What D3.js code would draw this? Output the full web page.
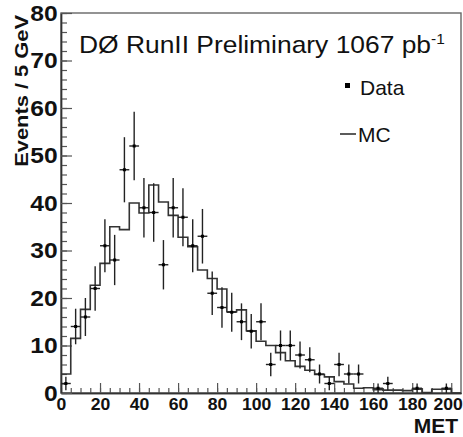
<!DOCTYPE html>
<meta charset="utf-8">
<style>
  body { margin: 0; background: #fff; }
  svg { display: block; }
  text { font-family: "Liberation Sans", Arial, Helvetica, sans-serif; fill: #111; }
  .axis text { font-weight: bold; }
  .axis .domain { stroke: #333; stroke-width: 1.4px; }
  .axis line { stroke: #555; stroke-width: 1.2px; }
</style>
<svg width="463" height="437"></svg>
<script src="https://d3js.org/d3.v7.min.js"></script>
<script>

  // 5 GeV bins, 0..205 GeV
  var binWidth = 5;
  var dataCounts = [2, 14, 16, 22, 31, 28, 47, 52, 39, 38,
                    27, 39, 37, 31, 33, 21, 18, 17, 15, 13,
                    15, 6, 10, 10, 8, 7, 4, 2, 6, 4,
                    4, 0, 1, 2, 0, 0, 1, 0, 0, 1, 0];
  var mcCounts = [4, 11.5, 17.6, 22.7, 27.3, 35.0, 34.4, 40.0, 37.9, 43.8,
                  40.2, 37.4, 32.8, 30.8, 25.9, 24.1, 21.9, 17.1, 17.5, 13.1,
                  10.9, 10.0, 8.5, 6.8, 5.6, 4.8, 3.9, 3.4, 2.4, 1.9,
                  1.0, 1.1, 0.7, 0.6, 0.6, 0.5, 0.8, 0.1, 0.8, 0.8, 0];
  var xTicks = [0, 20, 40, 60, 80, 100, 120, 140, 160, 180, 200];
  var yTicks = [0, 10, 20, 30, 40, 50, 60, 70, 80];

  var svg = d3.select("svg"),
      fLeft = 61, fRight = 461, fTop = 13, fBottom = 393;

  var x = d3.scaleLinear().domain([0, 205]).range([fLeft, fRight]);
  var y = d3.scaleLinear().domain([0, 80]).range([fBottom, fTop]);

  // frame
  svg.append("rect")
      .attr("x", fLeft).attr("y", fTop)
      .attr("width", fRight - fLeft).attr("height", fBottom - fTop)
      .attr("fill", "none").attr("stroke", "#666").attr("stroke-width", 1.4);

  // minor ticks
  svg.append("g").attr("class", "axis")
      .attr("transform", "translate(0," + fBottom + ")")
      .call(d3.axisBottom(x).tickValues(d3.range(0, 205, 5)).tickSize(-5).tickSizeOuter(0).tickFormat(""));
  svg.append("g").attr("class", "axis")
      .attr("transform", "translate(" + fLeft + ",0)")
      .call(d3.axisLeft(y).tickValues(d3.range(0, 81, 2)).tickSize(-6).tickSizeOuter(0).tickFormat(""));

  // major ticks with labels
  var xAxis = svg.append("g").attr("class", "axis")
      .attr("transform", "translate(0," + fBottom + ")")
      .call(d3.axisBottom(x).tickValues(xTicks).tickSize(-10).tickSizeOuter(0).tickPadding(6));
  xAxis.selectAll("text")
      .style("font-size", "16px")
      .attr("transform", "scale(1.1,1)");
  // last label would run past the right edge: pull it in
  xAxis.selectAll("text")
      .filter(function(d) { return d === 200; })
      .attr("text-anchor", "end")
      .attr("x", 10);

  var yAxis = svg.append("g").attr("class", "axis")
      .attr("transform", "translate(" + fLeft + ",0)")
      .call(d3.axisLeft(y).tickValues(yTicks).tickSize(-11).tickSizeOuter(0).tickPadding(3));
  yAxis.selectAll("text")
      .style("font-size", "22px")
      .attr("transform", "scale(1.12,1)");

  // MC histogram as steps
  var steps = [];
  mcCounts.forEach(function(v, i) {
    steps.push([i * binWidth, v]);
    steps.push([(i + 1) * binWidth, v]);
  });
  var line = d3.line()
      .x(function(d) { return x(d[0]); })
      .y(function(d) { return y(d[1]); });
  svg.append("path")
      .datum(steps)
      .attr("d", line)
      .attr("fill", "none")
      .attr("stroke", "#333")
      .attr("stroke-width", 1.6);

  // data points with error bars
  var pts = dataCounts.map(function(v, i) { return {lo: i * binWidth, v: v}; })
      .filter(function(d) { return d.v > 0; });
  var pg = svg.append("g").attr("stroke", "#222").attr("stroke-width", 1.4);
  pg.selectAll("line.h").data(pts).enter().append("line")
      .attr("x1", function(d) { return x(d.lo); })
      .attr("x2", function(d) { return x(d.lo + binWidth); })
      .attr("y1", function(d) { return y(d.v); })
      .attr("y2", function(d) { return y(d.v); });
  pg.selectAll("line.v").data(pts).enter().append("line")
      .attr("x1", function(d) { return x(d.lo + binWidth / 2); })
      .attr("x2", function(d) { return x(d.lo + binWidth / 2); })
      .attr("y1", function(d) { return y(Math.max(0, d.v - Math.sqrt(d.v))); })
      .attr("y2", function(d) { return y(d.v + Math.sqrt(d.v)); });
  svg.append("g").selectAll("rect").data(pts).enter().append("rect")
      .attr("x", function(d) { return x(d.lo + binWidth / 2) - 1.5; })
      .attr("y", function(d) { return y(d.v) - 1.5; })
      .attr("width", 3).attr("height", 3)
      .attr("fill", "#000");

  // title
  var title = svg.append("text")
      .attr("transform", "translate(79,53) scale(1.1,1)")
      .style("font-size", "24px");
  title.append("tspan").text("DØ RunII Preliminary 1067 pb");
  title.append("tspan").attr("dy", -9).style("font-size", "14px").text("-1");

  // legend
  svg.append("rect").attr("x", 345).attr("y", 83).attr("width", 5).attr("height", 5).attr("fill", "#000");
  svg.append("text").attr("x", 360).attr("y", 95).style("font-size", "21px").text("Data");
  svg.append("line").attr("x1", 340).attr("x2", 356).attr("y1", 134).attr("y2", 134)
      .attr("stroke", "#333").attr("stroke-width", 1.6);
  svg.append("text").attr("x", 358).attr("y", 142).style("font-size", "21px").text("MC");

  // axis titles
  svg.append("text")
      .attr("text-anchor", "end")
      .attr("transform", "translate(458,433)")
      .style("font-size", "21px").style("font-weight", "bold")
      .text("MET");
  svg.append("text")
      .attr("text-anchor", "end")
      .attr("transform", "translate(28,15) rotate(-90) scale(1.15,1)")
      .style("font-size", "19px").style("font-weight", "bold")
      .text("Events / 5 GeV");

</script>
